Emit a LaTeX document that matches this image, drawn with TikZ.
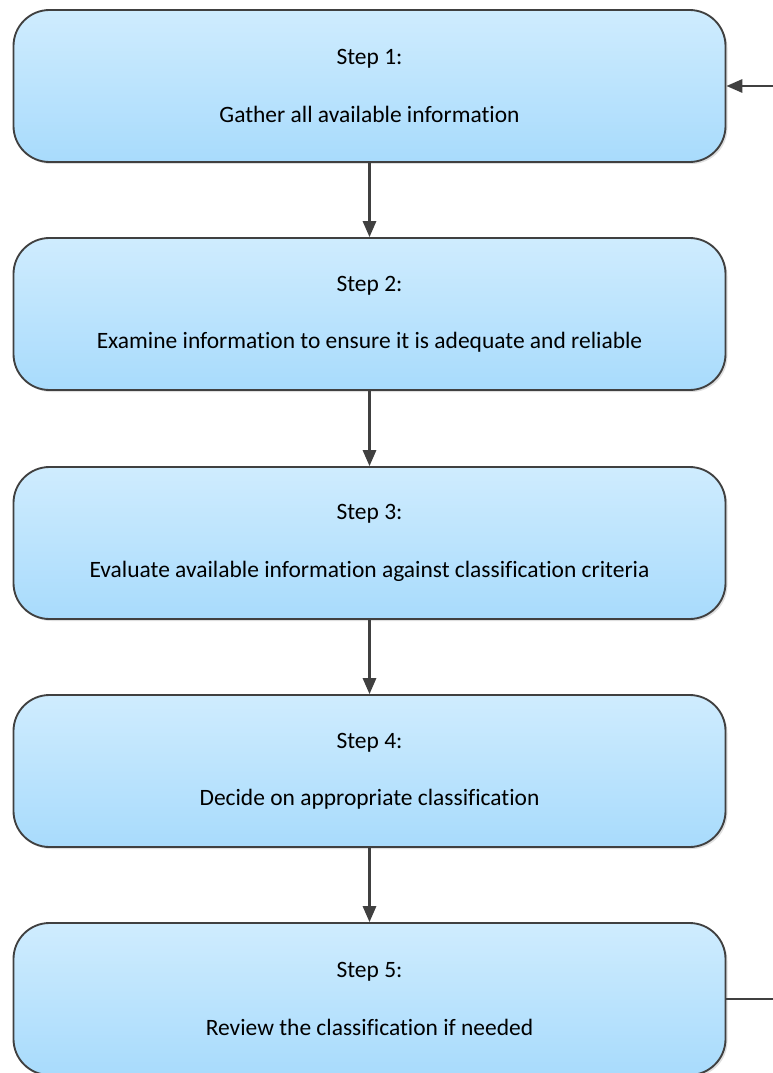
\documentclass[tikz,border=0pt]{standalone}
\usepackage{fontspec}
\setmainfont{Carlito}[Ligatures=NoCommon]
\usetikzlibrary{arrows.meta,shadows}
\definecolor{boxtop}{RGB}{207,236,254}
\definecolor{boxbottom}{RGB}{168,219,252}
\definecolor{edgegray}{RGB}{64,64,64}
\begin{document}
\begin{tikzpicture}[x=0.75pt,y=-0.75pt,
    stepbox/.style={draw=edgegray,line width=1.4pt,rounded corners=27pt,
        top color=boxtop,bottom color=boxbottom,
        minimum width=534pt,minimum height=114pt,align=center,
        font=\fontsize{17.6}{20}\selectfont,
        drop shadow={shadow xshift=1.5pt,shadow yshift=-1.5pt,opacity=0.25}},
    link/.style={draw=edgegray,line width=1.6pt,-{Triangle[length=12pt,width=10pt]}}]
    \useasboundingbox (0,0) rectangle (773,1073);

    \node (step1) [stepbox] at (369.5,86) {Step 1:\\[23pt]Gather all available information};
    \node (step2) [stepbox] at (369.5,314) {Step 2:\\[23pt]Examine information to ensure it is adequate and reliable};
    \node (step3) [stepbox] at (369.5,543) {Step 3:\\[23pt]Evaluate available information against classification criteria};
    \node (step4) [stepbox] at (369.5,771) {Step 4:\\[23pt]Decide on appropriate classification};
    \node (step5) [stepbox] at (369.5,999) {Step 5:\\[23pt]Review the classification if needed};

    \coordinate (loop) at (773,0);

    \draw[link] (step1) -- (step2);
    \draw[link] (step2) -- (step3);
    \draw[link] (step3) -- (step4);
    \draw[link] (step4) -- (step5);
    \draw[link] (step1.east -| loop) -- (step1.east);
    \draw[draw=edgegray,line width=1.6pt] (step5.east) -- (step5.east -| loop);
\end{tikzpicture}
\end{document}
